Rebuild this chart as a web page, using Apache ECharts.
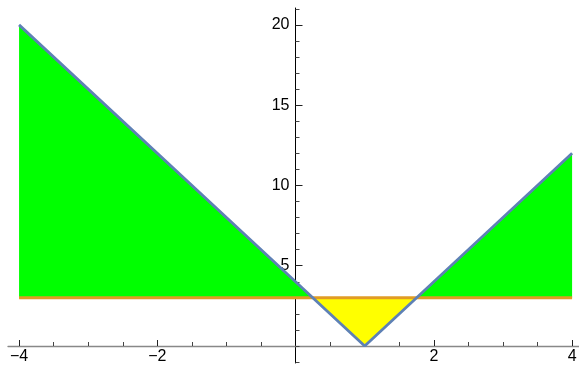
<!DOCTYPE html>
<html style="height: 100%">
    <head>
        <meta charset="utf-8">
    </head>
    <body style="height: 100%; margin: 0">
        <div id="container" style="width: 579px; height: 367px"></div>

        <script type="text/javascript" src="https://cdn.jsdelivr.net/npm/echarts@6/dist/echarts.min.js"></script>
        <script type="text/javascript">
var curveX = [-4, 1, 4];
var curveY = [20, 0, 12];
var levelX = [-4, 4];
var levelY = [3, 3];

// tick values
var xMajorTicks = [-4, -2, 2, 4];
var xMinorTicks = [-3.5, -3, -2.5, -1.5, -1, -0.5, 0.5, 1, 1.5, 2.5, 3, 3.5];
var yMajorTicks = [5, 10, 15, 20];
var yMinorTicks = [-1, 0, 1, 2, 3, 4, 6, 7, 8, 9, 11, 12, 13, 14, 16, 17, 18, 19, 21];

var dom = document.getElementById("container");
var myChart = echarts.init(dom);

var xMin = -4.16, xMax = 4.10;
var yMin = -1.06, yMax = 21.05;

var curveData = curveX.map(function (x, i) { return [x, curveY[i]]; });
var levelData = levelX.map(function (x, i) { return [x, levelY[i]]; });

var fmt = function (v) { return String(v).replace('-', '\u2212'); };
var font = '"Liberation Sans", Arial, sans-serif';

var hiddenX = function (gi) {
    return { type: 'value', gridIndex: gi, show: false, min: xMin, max: xMax, splitLine: { show: false } };
};
var hiddenY = function (gi) {
    return { type: 'value', gridIndex: gi, show: false, min: yMin, max: yMax, splitLine: { show: false } };
};

var option = {
    animation: false,
    grid: [
        // plot area
        { left: 8, right: 0, top: 8, bottom: 4, outerBoundsMode: 'none' },
        // x axis, major / minor
        { left: 8, right: 0, top: 300, bottom: 21, outerBoundsMode: 'none' },
        { left: 8, right: 0, top: 300, bottom: 21, outerBoundsMode: 'none' },
        // y axis, major / minor
        { left: 295.5, width: 100, top: 8, bottom: 4, outerBoundsMode: 'none' },
        { left: 295.5, width: 100, top: 8, bottom: 4, outerBoundsMode: 'none' }
    ],
    xAxis: [
        hiddenX(0),
        {
            type: 'value', gridIndex: 1, min: xMin, max: xMax, position: 'bottom',
            splitLine: { show: false },
            axisLine: { show: true, onZero: false, lineStyle: { color: '#888', width: 1.3 } },
            axisTick: { show: true, inside: true, length: 6, customValues: xMajorTicks, lineStyle: { color: '#222' } },
            axisLabel: { show: true, customValues: xMajorTicks, formatter: fmt, margin: 3,
                color: '#000', fontSize: 16, fontFamily: font }
        },
        {
            type: 'value', gridIndex: 2, min: xMin, max: xMax, position: 'bottom',
            splitLine: { show: false },
            axisLine: { show: false, onZero: false },
            axisTick: { show: true, inside: true, length: 4, customValues: xMinorTicks, lineStyle: { color: '#444' } },
            axisLabel: { show: false }
        },
        hiddenX(3),
        hiddenX(4)
    ],
    yAxis: [
        hiddenY(0),
        hiddenY(1),
        hiddenY(2),
        {
            type: 'value', gridIndex: 3, min: yMin, max: yMax, position: 'left',
            splitLine: { show: false },
            axisLine: { show: true, onZero: false, lineStyle: { color: '#000', width: 1 } },
            axisTick: { show: true, inside: true, length: 7, customValues: yMajorTicks, lineStyle: { color: '#222' } },
            axisLabel: { show: true, customValues: yMajorTicks, formatter: fmt, margin: 6,
                color: '#000', fontSize: 16, fontFamily: font }
        },
        {
            type: 'value', gridIndex: 4, min: yMin, max: yMax, position: 'left',
            splitLine: { show: false },
            axisLine: { show: false, onZero: false },
            axisTick: { show: true, inside: true, length: 4, customValues: yMinorTicks, lineStyle: { color: '#444' } },
            axisLabel: { show: false }
        }
    ],
    visualMap: {
        type: 'piecewise',
        show: false,
        seriesIndex: 0,
        dimension: 1,
        pieces: [
            { gte: -10, lt: 3, color: '#ffff00' },
            { gte: 3, lte: 50, color: '#00ff00' }
        ]
    },
    series: [
        {
            type: 'line',
            xAxisIndex: 0, yAxisIndex: 0,
            data: curveData,
            symbol: 'none',
            lineStyle: { width: 0, opacity: 0 },
            areaStyle: { origin: 3, opacity: 1 },
            z: 1
        },
        {
            type: 'line',
            xAxisIndex: 0, yAxisIndex: 0,
            data: levelData,
            symbol: 'none',
            color: '#e19c24',
            lineStyle: { color: '#e19c24', width: 3 },
            z: 3
        },
        {
            type: 'line',
            xAxisIndex: 0, yAxisIndex: 0,
            data: curveData,
            symbol: 'none',
            color: '#5e81b5',
            lineStyle: { color: '#5e81b5', width: 2.8 },
            z: 4
        }
    ]
};

myChart.setOption(option);
        </script>
    </body>
</html>
